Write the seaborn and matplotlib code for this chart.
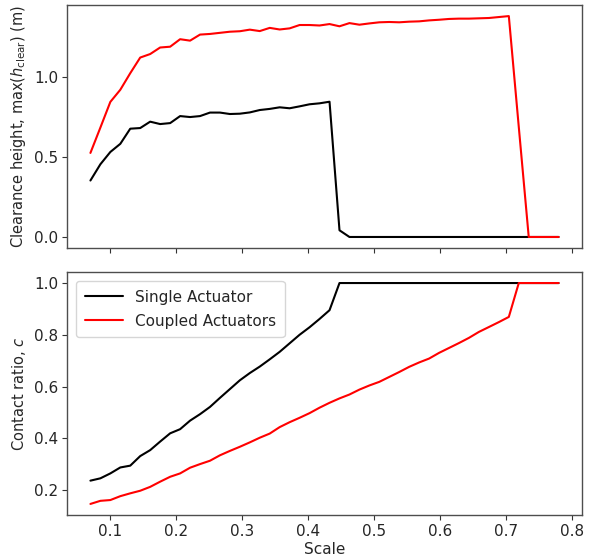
import numpy as np
import pandas as pd
import matplotlib
matplotlib.use("Agg")
import matplotlib.pyplot as plt
import seaborn as sns

sns.set_style("ticks")
plt.rcParams['font.family'] = ['DejaVu Sans']
plt.rcParams['mathtext.fontset'] = 'dejavusans'

scale = [0.0700, 0.0851, 0.1002, 0.1153, 0.1304, 0.1455, 0.1606, 0.1757,
         0.1909, 0.2060, 0.2211, 0.2362, 0.2513, 0.2664, 0.2815, 0.2966,
         0.3117, 0.3268, 0.3419, 0.3570, 0.3721, 0.3872, 0.4023, 0.4174,
         0.4326, 0.4477, 0.4628, 0.4779, 0.4930, 0.5081, 0.5232, 0.5383,
         0.5534, 0.5685, 0.5836, 0.5987, 0.6138, 0.6289, 0.6440, 0.6591,
         0.6743, 0.6894, 0.7045, 0.7196, 0.7347, 0.7498, 0.7649, 0.7800]

clear_single = [0.354, 0.456, 0.533, 0.584, 0.679, 0.683, 0.723, 0.708,
                0.714, 0.758, 0.752, 0.758, 0.780, 0.780, 0.771, 0.773,
                0.781, 0.796, 0.803, 0.813, 0.807, 0.819, 0.832, 0.838,
                0.848, 0.042, 0.0, 0.0, 0.0, 0.0, 0.0, 0.0,
                0.0, 0.0, 0.0, 0.0, 0.0, 0.0, 0.0, 0.0,
                0.0, 0.0, 0.0, 0.0, 0.0, 0.0, 0.0, 0.0]

clear_coupled = [0.527, 0.686, 0.847, 0.923, 1.027, 1.125, 1.147, 1.188,
                 1.193, 1.240, 1.231, 1.269, 1.273, 1.280, 1.287, 1.290,
                 1.300, 1.291, 1.311, 1.301, 1.308, 1.329, 1.329, 1.326,
                 1.335, 1.321, 1.341, 1.331, 1.339, 1.346, 1.348, 1.346,
                 1.350, 1.352, 1.358, 1.362, 1.367, 1.369, 1.369, 1.371,
                 1.373, 1.379, 1.385, 0.690, 0.0, 0.0, 0.0, 0.0]

contact_single = [0.236, 0.245, 0.264, 0.287, 0.294, 0.331, 0.354, 0.387,
                  0.419, 0.435, 0.468, 0.493, 0.521, 0.556, 0.590, 0.624,
                  0.652, 0.677, 0.705, 0.734, 0.767, 0.800, 0.829, 0.861,
                  0.895, 1.0, 1.0, 1.0, 1.0, 1.0, 1.0, 1.0,
                  1.0, 1.0, 1.0, 1.0, 1.0, 1.0, 1.0, 1.0,
                  1.0, 1.0, 1.0, 1.0, 1.0, 1.0, 1.0, 1.0]

contact_coupled = [0.146, 0.158, 0.161, 0.176, 0.187, 0.197, 0.212, 0.232,
                   0.251, 0.264, 0.286, 0.300, 0.313, 0.334, 0.351, 0.367,
                   0.384, 0.402, 0.418, 0.443, 0.462, 0.479, 0.497, 0.518,
                   0.537, 0.554, 0.569, 0.588, 0.604, 0.618, 0.637, 0.656,
                   0.676, 0.693, 0.708, 0.730, 0.749, 0.768, 0.788, 0.811,
                   0.830, 0.849, 0.869, 1.0, 1.0, 1.0, 1.0, 1.0]

labels = ["Single Actuator", "Coupled Actuators"]
colors = ["black", "red"]

fig = plt.figure(figsize=(5.91, 5.6), dpi=100)
ax1 = fig.add_axes([0.1134, 0.5571, 0.8714, 0.4339])
ax2 = fig.add_axes([0.1134, 0.0804, 0.8714, 0.4339], sharex=ax1)

for ys, lab, c in zip([clear_single, clear_coupled], labels, colors):
    sns.lineplot(x=scale, y=ys, color=c, lw=1.5, ax=ax1, label=lab, legend=False)
for ys, lab, c in zip([contact_single, contact_coupled], labels, colors):
    sns.lineplot(x=scale, y=ys, color=c, lw=1.5, ax=ax2, label=lab)

fs = 10.5
tfs = 11
ax1.set_ylabel(r"Clearance height, max$(h_{\rm clear})$ (m)", fontsize=fs)
ax2.set_ylabel(r"Contact ratio, $c$", fontsize=fs)
ax2.set_xlabel("Scale", fontsize=11, labelpad=2)
ax1.set_yticks([0.0, 0.5, 1.0])
ax2.set_yticks([0.2, 0.4, 0.6, 0.8, 1.0])
ax2.set_xticks([0.1, 0.2, 0.3, 0.4, 0.5, 0.6, 0.7, 0.8])
plt.setp(ax1.get_xticklabels(), visible=False)
for ax in (ax1, ax2):
    ax.tick_params(labelsize=tfs, length=3.5, width=0.8, color='0.2', pad=3)
    for s in ax.spines.values():
        s.set_color('0.3')
        s.set_linewidth(1.0)
ax2.legend(loc='upper left', fontsize=11, frameon=True, borderpad=0.55,
           handlelength=2.5, borderaxespad=0.6, labelspacing=0.6)

fig.savefig("out.png", dpi=100)
